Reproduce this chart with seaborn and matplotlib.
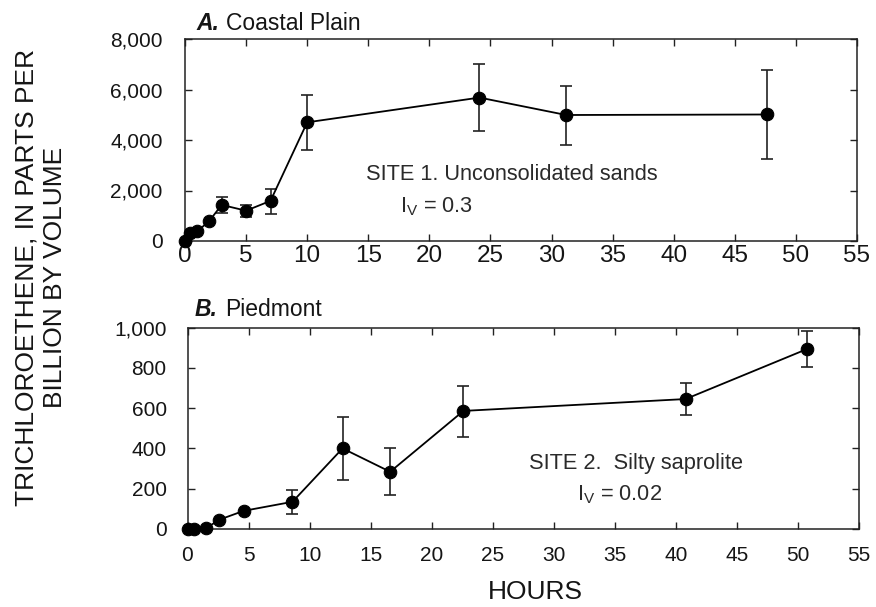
import numpy as np
import pandas as pd
import seaborn as sns
import matplotlib.pyplot as plt
from matplotlib.ticker import FuncFormatter

# ---- data: A. Coastal Plain ----
hours_a = [0.0, 0.4, 1.0, 2.0, 3.0, 5.0, 7.0, 10.0, 24.1, 31.2, 47.6]
tce_a = [0, 330, 380, 800, 1430, 1200, 1590, 4700, 5680, 4990, 5010]
err_lo_a = [np.nan, np.nan, np.nan, np.nan, 1120, 940, 1080, 3590, 4370, 3800, 3235]
err_hi_a = [np.nan, np.nan, np.nan, np.nan, 1750, 1440, 2070, 5795, 7000, 6140, 6760]

# ---- data: B. Piedmont ----
hours_b = [0.0, 0.5, 1.5, 2.6, 4.6, 8.6, 12.7, 16.6, 22.6, 40.8, 50.7]
tce_b = [0, 0, 3, 46, 90, 135, 400, 284, 586, 645, 892]
err_lo_b = [np.nan, np.nan, np.nan, np.nan, np.nan, 76, 243, 167, 459, 568, 802]
err_hi_b = [np.nan, np.nan, np.nan, np.nan, np.nan, 196, 556, 402, 710, 723, 982]

x_ticks = [0, 5, 10, 15, 20, 25, 30, 35, 40, 45, 50, 55]
y_ticks_a = [0, 2000, 4000, 6000, 8000]
y_ticks_b = [0, 200, 400, 600, 800, 1000]

sns.set_style("ticks")
plt.rcParams['font.family'] = ['Liberation Sans', 'DejaVu Sans']
plt.rcParams['mathtext.fontset'] = 'custom'
plt.rcParams['mathtext.rm'] = 'Liberation Sans'
plt.rcParams['mathtext.it'] = 'Liberation Sans:italic'
plt.rcParams['mathtext.bf'] = 'Liberation Sans:bold'

TXT = '#151515'
fig = plt.figure(figsize=(8.76, 6.07), dpi=100)
ax1 = fig.add_axes([185 / 876, 1 - 241 / 607, 672 / 876, 202 / 607])
ax2 = fig.add_axes([187.5 / 876, 1 - 529 / 607, 671.5 / 876, 201.5 / 607])


def draw(ax, hours, vals, lo, hi):
    df = pd.DataFrame({'hours': hours, 'tce': vals, 'lo': lo, 'hi': hi})
    sns.lineplot(data=df, x='hours', y='tce', ax=ax, color='black', linewidth=1.3,
                 marker='o', markersize=9, markeredgecolor='black',
                 markeredgewidth=0.8, clip_on=False, zorder=3)
    e = df.dropna()
    ax.errorbar(e['hours'], e['tce'], yerr=[e['tce'] - e['lo'], e['hi'] - e['tce']],
                fmt='none', ecolor='#222222', elinewidth=1.2, capsize=4.5,
                capthick=1.2, zorder=2)
    ax.set_xlim(0, 55)
    ax.set_xticks(x_ticks)
    ax.set_xlabel('')
    ax.set_ylabel('')
    ax.tick_params(direction='in', top=True, right=True, length=5, width=1,
                   color='#222222', labelcolor=TXT)
    for s in ax.spines.values():
        s.set_linewidth(1.1)
        s.set_color('#222222')


draw(ax1, hours_a, tce_a, err_lo_a, err_hi_a)
ax1.set_ylim(0, 8000)
ax1.set_yticks(y_ticks_a)
ax1.yaxis.set_major_formatter(FuncFormatter(lambda v, p: f"{v:,.0f}"))
ax1.tick_params(axis='x', labelsize=17.5, pad=3)
ax1.tick_params(axis='y', labelsize=15, pad=16)

draw(ax2, hours_b, tce_b, err_lo_b, err_hi_b)
ax2.set_ylim(0, 1000)
ax2.set_yticks(y_ticks_b)
ax2.yaxis.set_major_formatter(FuncFormatter(lambda v, p: f"{v:,.0f}"))
ax2.tick_params(axis='x', labelsize=15, pad=12)
ax2.tick_params(axis='y', labelsize=15, pad=15)

# panel titles
fig.text(196 / 876, 1 - 30 / 607, "A.", fontsize=16.5, fontweight='bold',
         style='italic', color=TXT, va='baseline', ha='left')
fig.text(226 / 876, 1 - 30 / 607, "Coastal Plain", fontsize=16.5, color=TXT,
         va='baseline', ha='left')
fig.text(195 / 876, 1 - 316.5 / 607, "B.", fontsize=16.5, fontweight='bold',
         style='italic', color=TXT, va='baseline', ha='left')
fig.text(225 / 876, 1 - 316.5 / 607, "Piedmont", fontsize=16.5, color=TXT,
         va='baseline', ha='left')

# annotations
ax1.text((366 - 185) / 672, (241 - 175) / 202, "SITE 1. Unconsolidated sands",
         transform=ax1.transAxes, fontsize=15.7, color='#2a2a2a', ha='left', va='center')
ax1.text((400 - 185) / 672, (241 - 207) / 202, r"I$_{\mathregular{V}}$ = 0.3",
         transform=ax1.transAxes, fontsize=15.7, color='#2a2a2a', ha='left', va='center')
ax2.text((529 - 187.5) / 671.5, (529 - 464) / 201.5, "SITE 2.  Silty saprolite",
         transform=ax2.transAxes, fontsize=15.7, color='#2a2a2a', ha='left', va='center')
ax2.text((577 - 187.5) / 671.5, (529 - 495) / 201.5, r"I$_{\mathregular{V}}$ = 0.02",
         transform=ax2.transAxes, fontsize=15.7, color='#2a2a2a', ha='left', va='center')

# shared axis labels
fig.text(41 / 876, 1 - 277 / 607, "TRICHLOROETHENE, IN PARTS PER\nBILLION BY VOLUME",
         rotation=90, ha='center', va='center', multialignment='center',
         fontsize=19, linespacing=1.25, color=TXT)
fig.text(535 / 876, 1 - 592 / 607, "HOURS", ha='center', va='center',
         fontsize=19, color=TXT)

fig.savefig('out.png', dpi=100)
